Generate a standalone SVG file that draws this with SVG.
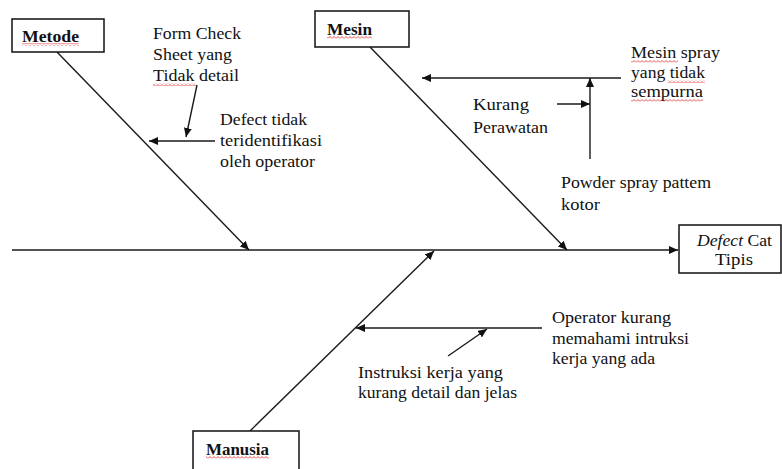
<svg xmlns="http://www.w3.org/2000/svg" width="782" height="469" viewBox="0 0 782 469">
<style>
.t{font-family:"Liberation Serif","Times New Roman",serif;font-size:16.5px;fill:#111}
.b{font-family:"Liberation Serif","Times New Roman",serif;font-size:16px;font-weight:bold;fill:#111}
.box{fill:#fff;stroke:#111;stroke-width:1.5}
.ln{fill:none;stroke:#1a1a1a;stroke-width:1.4}
.sq{fill:url(#wave)}
</style>
<defs>
<marker id="ah" markerUnits="userSpaceOnUse" markerWidth="10" markerHeight="8" refX="9" refY="4" orient="auto">
<path d="M0,0 L9,4 L0,8 z" fill="#111"/>
</marker>
<pattern id="wave" patternUnits="userSpaceOnUse" width="4" height="3">
<path d="M0,2.5 L2,0.5 L4,2.5" fill="none" stroke="#e02020" stroke-width="0.8"/>
</pattern>
</defs>
<rect width="782" height="469" fill="#fff"/>

<g id="connectors">
<line class="ln" x1="12" y1="250" x2="678" y2="250" marker-end="url(#ah)"/>
<line class="ln" x1="57" y1="52" x2="249" y2="250" marker-end="url(#ah)"/>
<line class="ln" x1="370" y1="47" x2="567" y2="250" marker-end="url(#ah)"/>
<line class="ln" x1="250" y1="431" x2="434" y2="251" marker-end="url(#ah)"/>
<line class="ln" x1="197" y1="85" x2="186" y2="137" marker-end="url(#ah)"/>
<line class="ln" x1="215" y1="141" x2="149" y2="141" marker-end="url(#ah)"/>
<line class="ln" x1="621" y1="78" x2="422" y2="78" marker-end="url(#ah)"/>
<line class="ln" x1="590" y1="159" x2="590" y2="78" marker-end="url(#ah)"/>
<line class="ln" x1="557" y1="104" x2="590" y2="104" marker-end="url(#ah)"/>
<line class="ln" x1="542" y1="328" x2="356" y2="328" marker-end="url(#ah)"/>
<line class="ln" x1="448" y1="356" x2="487" y2="329" marker-end="url(#ah)"/>
</g>

<g id="metode">
<rect class="box" x="12" y="19" width="92" height="33"/>
<text class="b" x="22" y="42" textLength="57" lengthAdjust="spacingAndGlyphs">Metode</text>
<rect class="sq" x="22" y="43" width="57" height="3"/>
</g>

<g id="mesin">
<rect class="box" x="315" y="11" width="94" height="36"/>
<text class="b" x="327" y="35" textLength="45" lengthAdjust="spacingAndGlyphs">Mesin</text>
<rect class="sq" x="327" y="36" width="45" height="3"/>
</g>

<g id="manusia">
<rect class="box" x="193" y="431" width="106" height="45"/>
<text class="b" x="206" y="455" textLength="63" lengthAdjust="spacingAndGlyphs">Manusia</text>
<rect class="sq" x="206" y="456" width="63" height="3"/>
</g>

<g id="effect">
<rect class="box" x="679" y="225" width="102" height="48"/>
<text class="t" x="697" y="246" textLength="75" lengthAdjust="spacingAndGlyphs"><tspan font-style="italic">Defect</tspan> Cat</text>
<text class="t" x="715" y="265" textLength="38" lengthAdjust="spacingAndGlyphs">Tipis</text>
</g>

<g id="form-check">
<text class="t" x="153" y="39" textLength="88" lengthAdjust="spacingAndGlyphs">Form Check</text>
<text class="t" x="153" y="60" textLength="79" lengthAdjust="spacingAndGlyphs">Sheet yang</text>
<text class="t" x="153" y="81" textLength="86" lengthAdjust="spacingAndGlyphs">Tidak detail</text>
<rect class="sq" x="153" y="83" width="43" height="3"/>
</g>

<g id="defect-tidak">
<text class="t" x="220" y="125" textLength="87" lengthAdjust="spacingAndGlyphs">Defect tidak</text>
<text class="t" x="220" y="146" textLength="102" lengthAdjust="spacingAndGlyphs">teridentifikasi</text>
<text class="t" x="220" y="167" textLength="95" lengthAdjust="spacingAndGlyphs">oleh operator</text>
</g>

<g id="mesin-spray">
<text class="t" x="631" y="58" textLength="89" lengthAdjust="spacingAndGlyphs">Mesin spray</text>
<text class="t" x="631" y="78" textLength="74" lengthAdjust="spacingAndGlyphs">yang tidak</text>
<text class="t" x="631" y="97" textLength="72" lengthAdjust="spacingAndGlyphs">sempurna</text>
<rect class="sq" x="631" y="60" width="47" height="3"/>
<rect class="sq" x="668" y="80" width="37" height="3"/>
<rect class="sq" x="631" y="99" width="72" height="3"/>
</g>

<g id="kurang-perawatan">
<text class="t" x="473" y="110" textLength="56" lengthAdjust="spacingAndGlyphs">Kurang</text>
<text class="t" x="473" y="133" textLength="75" lengthAdjust="spacingAndGlyphs">Perawatan</text>
</g>

<g id="powder-spray">
<text class="t" x="561" y="188" textLength="150" lengthAdjust="spacingAndGlyphs">Powder spray pattem</text>
<text class="t" x="561" y="210" textLength="39" lengthAdjust="spacingAndGlyphs">kotor</text>
</g>

<g id="operator-kurang">
<text class="t" x="552" y="323" textLength="119" lengthAdjust="spacingAndGlyphs">Operator kurang</text>
<text class="t" x="552" y="344" textLength="137" lengthAdjust="spacingAndGlyphs">memahami intruksi</text>
<text class="t" x="552" y="364" textLength="103" lengthAdjust="spacingAndGlyphs">kerja yang ada</text>
</g>

<g id="instruksi">
<text class="t" x="358" y="378" textLength="145" lengthAdjust="spacingAndGlyphs">Instruksi kerja yang</text>
<text class="t" x="358" y="398" textLength="159" lengthAdjust="spacingAndGlyphs">kurang detail dan jelas</text>
</g>
</svg>
